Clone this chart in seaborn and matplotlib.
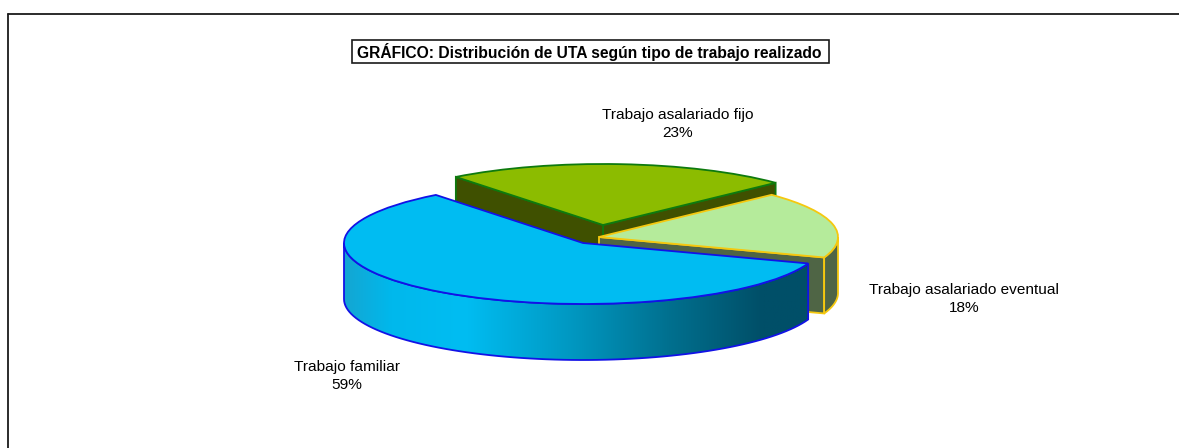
import numpy as np
import matplotlib
matplotlib.use("Agg")
import matplotlib.pyplot as plt
import seaborn as sns
from matplotlib.colors import LinearSegmentedColormap
from matplotlib.lines import Line2D
from matplotlib.patches import Polygon, Rectangle

# datos
etiquetas = ["Trabajo familiar", "Trabajo asalariado eventual", "Trabajo asalariado fijo"]
porcentajes = [59, 17.6, 23.4]
titulo = "GRÁFICO: Distribución de UTA según tipo de trabajo realizado"

colores_top = ["#00BCF2", "#B5EB9B", "#8CBC00"]
colores_borde = ["#1212E6", "#F5C80F", "#0E7A0E"]
colores_lado = ["#00BCF2", "#4F6545", "#3F5000"]

# layout en pixeles
W, H = 1179, 448
cx, cy = 583, 243
rx, ry = 239, 61
prof = 56 / ry
inicio = 128
desp = [(0, 0), (16 / rx, 6 / ry), (20 / rx, 18 / ry)]
pos_etiquetas = [(347, 376), (964, 299), (677.5, 124)]
grosor = 1.3

sns.set_theme(style="white", font="Liberation Sans")

fig = plt.figure(figsize=(W / 100, H / 100), dpi=100)
ax = fig.add_axes([0, 0, 1, 1])

wedges, _ = ax.pie(porcentajes, colors=colores_top, startangle=inicio, radius=1,
                   wedgeprops={"linewidth": grosor, "joinstyle": "miter"})


def arco(t0, t1, o):
    t = np.radians(np.linspace(t0, t1, 80))
    return np.column_stack([o[0] + np.cos(t), o[1] + np.sin(t)])


def pared(puntos):
    abajo = puntos[::-1] - [0, prof]
    return np.vstack([puntos, abajo])


# limites de cada sector a partir de los porcentajes
angulos = inicio + np.concatenate([[0], np.cumsum(porcentajes)]) * 3.6
z = {2: 2, 1: 4, 0: 6}

for i, w in enumerate(wedges):
    w.set_center(desp[i])
    w.set_edgecolor(colores_borde[i])
    w.set_zorder(z[i] + 0.5)
    a0, a1 = angulos[i], angulos[i + 1]
    o = np.array(desp[i])
    caras = []
    # caras radiales visibles
    for a in (a0, a1):
        borde = o + [np.cos(np.radians(a)), np.sin(np.radians(a))]
        if i == 2 or (i == 1 and a == a0):
            caras.append(pared(np.array([o, borde])))
    # pared exterior, solo la parte de delante
    if i == 1:
        caras.append(pared(arco(a0, 360, o)))
    for c in caras:
        ax.add_patch(Polygon(c, closed=True, facecolor=colores_lado[i],
                             edgecolor=colores_borde[i], linewidth=grosor,
                             joinstyle="miter", zorder=z[i]))

# pared de trabajo familiar con degradado
pared_azul = pared(arco(180, angulos[1], desp[0]))
cmap = LinearSegmentedColormap.from_list("lado", [
    (0.00, "#14A6D2"), (0.10, "#00B8EC"), (0.26, "#00BDF2"), (0.50, "#0096BF"),
    (0.70, "#00708F"), (0.90, "#004F68"), (1.00, "#004F68")])
x0, x1 = pared_azul[:, 0].min(), pared_azul[:, 0].max()
y0, y1 = pared_azul[:, 1].min(), pared_azul[:, 1].max()
img = ax.imshow(np.linspace(0, 1, 256).reshape(1, -1), cmap=cmap, aspect="auto",
                extent=(x0, x1, y0, y1), zorder=6)
forma = Polygon(pared_azul, closed=True, facecolor="none", edgecolor=colores_borde[0],
                linewidth=grosor, joinstyle="miter", zorder=6.2)
ax.add_patch(forma)
img.set_clip_path(forma)

ax.set_aspect("auto")
ax.set_xlim(-cx / rx, (W - cx) / rx)
ax.set_ylim((cy - H) / ry, cy / ry)
ax.axis("off")

# marco: solo arriba e izquierda
fig.add_artist(Line2D([8 / W, 8 / W], [0, 1 - 14 / H], color="#1a1a1a", lw=1.3))
fig.add_artist(Line2D([8 / W, 1], [1 - 14 / H, 1 - 14 / H], color="#1a1a1a", lw=1.3))

fig.add_artist(Rectangle((351.5 / W, 1 - 63 / H), 477 / W, 22.5 / H, transform=fig.transFigure,
                         facecolor="white", edgecolor="#1a1a1a", linewidth=1.2))
fig.text(589.5 / W, 1 - 52 / H, titulo, ha="center", va="center", fontsize=11.25,
         fontweight="bold", color="black")

for etiqueta, valor, (px, py) in zip(etiquetas, porcentajes, pos_etiquetas):
    fig.text(px / W, 1 - py / H, f"{etiqueta}\n{round(valor)}%", ha="center", va="center",
             fontsize=11.1, color="black", linespacing=1.38)

fig.savefig("out.png", dpi=100)
